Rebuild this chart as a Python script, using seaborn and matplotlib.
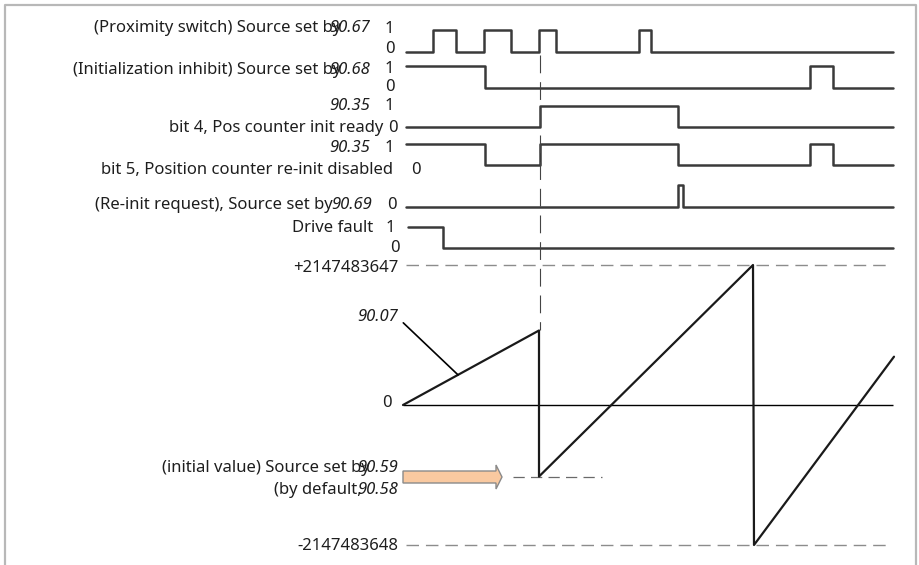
import numpy as np
import pandas as pd
import seaborn as sns
import matplotlib.pyplot as plt
from matplotlib.patches import FancyArrow

# time axis of the diagram (same units as the x pixels of the drawing)
t_start, t_end = 406, 893

# digital signals: initial level + switching instants
prox_init, prox_edges = 0, [433, 456, 484, 511, 539, 556, 639, 651]
inhibit_init, inhibit_edges = 1, [485, 810, 833]
ready_init, ready_edges = 0, [540, 678]
disabled_init, disabled_edges = 1, [485, 540, 678, 810, 833]
reinit_init, reinit_edges = 0, [678, 683]
fault_init, fault_edges = 1, [443]
fault_start = 408

# position counter 90.07
counter_t = [403, 539, 539, 753, 754, 894]
counter_v = [0, 1.143e9, -1.097e9, 2147483647, -2147483648, 0.741e9]
cnt_max, cnt_min = 2147483647, -2147483648
init_value = -1.097e9
init_time = ready_edges[0]


def steps(name, init, edges, t0=t_start, t1=t_end):
    times = [t0] + edges + [t1]
    lv = [init]
    for _ in edges:
        lv.append(1 - lv[-1])
    lv.append(lv[-1])
    return pd.DataFrame({"signal": name, "t": times, "level": lv})


sig = pd.concat([
    steps("prox", prox_init, prox_edges),
    steps("inhibit", inhibit_init, inhibit_edges),
    steps("ready", ready_init, ready_edges),
    steps("disabled", disabled_init, disabled_edges),
    steps("reinit", reinit_init, reinit_edges),
    steps("fault", fault_init, fault_edges, t0=fault_start),
])

# row layout: (y of level 1, y of level 0)
rows = {"prox": (30, 52), "inhibit": (66, 88), "ready": (106, 127),
        "disabled": (144, 165), "reinit": (185, 207), "fault": (227, 248)}
sig["y"] = [rows[s][1] - l * (rows[s][1] - rows[s][0]) for s, l in zip(sig.signal, sig.level)]

sns.set_theme(style="white")
plt.rcParams["font.family"] = ["Noto Sans", "DejaVu Sans"]

fig = plt.figure(figsize=(9.19, 5.65), dpi=100)
ax = fig.add_axes([0, 0, 1, 1])
ax.set_xlim(0, 919)
ax.set_ylim(565, 0)
ax.axis("off")

axc = fig.add_axes([0, 20 / 565, 1, 280 / 565])
axc.set_xlim(0, 919)
axc.set_ylim(cnt_min, cnt_max)
axc.axis("off")
axc.patch.set_visible(False)

dark = "#3a3a3a"
txt = "#1e1e1e"
fs = 12

sns.lineplot(data=sig, x="t", y="y", units="signal", estimator=None, sort=False,
             color=dark, lw=1.8, drawstyle="steps-post", legend=False, ax=ax)

# frame
ax.plot([5, 5, 916, 916], [565, 5, 5, 565], color="#b8b8b8", lw=1.6)

# counter
axc.hlines(0, counter_t[0], t_end, color="black", lw=1, clip_on=False)
axc.hlines([cnt_max, cnt_min], t_start, 890, color="#8c8c8c", lw=1,
           linestyles=[(0, (9, 5))], clip_on=False)
axc.hlines(init_value, 513, 602, color="#6a6a6a", lw=0.9, linestyles=[(0, (9, 5))])
sns.lineplot(x=counter_t, y=counter_v, estimator=None, sort=False, color="#1a1a1a",
             lw=1.6, clip_on=False, ax=axc)

# init instant
ax.vlines(init_time, 55, 330, color="#444444", lw=0.8, linestyles=[(0, (16, 8))])

# arrow for initial value
ax.add_patch(FancyArrow(403, 477, 99, 0, width=12, head_width=24, head_length=6,
                        length_includes_head=True, fc="#f9c9a0", ec="#8a8a8a", lw=1))


# labels (pixel layout)
def lab(x, y, s, italic=False, ha="right"):
    ax.text(x, y, s, ha=ha, va="center", fontsize=fs, color=txt,
            style="italic" if italic else "normal")


lab(341, 28, "(Proximity switch) Source set by")
lab(370, 28, "90.67", True)
lab(389, 29, "1", ha="center")
lab(390, 49, "0", ha="center")

lab(341, 70, "(Initialization inhibit) Source set by")
lab(370, 70, "90.68", True)
lab(389, 69, "1", ha="center")
lab(390, 87, "0", ha="center")

lab(370, 106, "90.35", True)
lab(389, 106, "1", ha="center")
lab(383, 128, "bit 4, Pos counter init ready")
lab(393, 128, "0", ha="center")

lab(370, 148, "90.35", True)
lab(389, 148, "1", ha="center")
lab(393, 170, "bit 5, Position counter re-init disabled")
lab(416, 170, "0", ha="center")

lab(333, 205, "(Re-init request), Source set by")
lab(372, 205, "90.69", True)
lab(392, 205, "0", ha="center")

lab(373, 228, "Drive fault")
lab(390, 228, "1", ha="center")
lab(395, 248, "0", ha="center")

lab(398, 268, "+2147483647")
lab(392, 403, "0")
lab(370, 468, "(initial value) Source set by")
lab(398, 468, "90.59", True)
lab(362, 490, "(by default,")
lab(398, 490, "90.58", True)
lab(398, 546, "-2147483648")

# 90.07 leader
t_lead = 458
axc.annotate("90.07", xy=(t_lead, np.interp(t_lead, counter_t[:2], counter_v[:2])),
             xytext=(398, 317), textcoords=ax.transData, ha="right", va="center",
             fontsize=fs, color=txt, style="italic",
             arrowprops=dict(arrowstyle="-", color="black", lw=1.2, relpos=(1.0, 0.45),
                             shrinkA=2, shrinkB=0))

fig.savefig("out.png", dpi=100)
